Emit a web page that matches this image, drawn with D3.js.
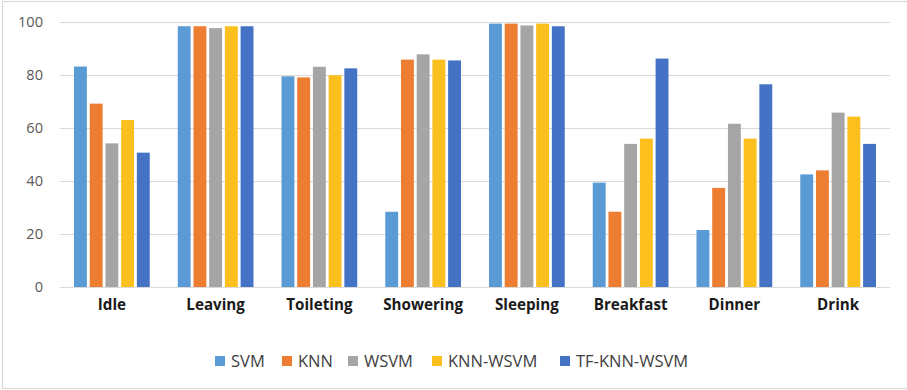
<!DOCTYPE html>
<html>
<head>
<meta charset="utf-8">
<script src="https://cdn.jsdelivr.net/npm/d3@7"></script>
<style>
  html, body { margin: 0; padding: 0; background: #fff; }
  svg { display: block; }
  text { font-family: "Open Sans", "Noto Sans", sans-serif; }
</style>
</head>
<body>
<svg id="chart" width="907" height="390"></svg>
<script>
// Activities on the x axis
const activities = ["Idle", "Leaving", "Toileting", "Showering", "Sleeping", "Breakfast", "Dinner", "Drink"];

// Classifiers (legend order)
const methods = ["SVM", "KNN", "WSVM", "KNN-WSVM", "TF-KNN-WSVM"];
const colors = ["#5B9BD5", "#ED7D31", "#A5A5A5", "#FBBF1E", "#4472C4"];

// Per-method accuracy (%) for each activity
const svm       = [83.2, 98.4, 79.5, 28.4, 99.4, 39.4, 21.5, 42.5];
const knn       = [69.2, 98.4, 79.1, 85.8, 99.4, 28.4, 37.4, 44.0];
const wsvm      = [54.2, 97.7, 83.1, 87.8, 98.7, 54.0, 61.6, 65.8];
const knnWsvm   = [63.0, 98.4, 79.9, 85.8, 99.4, 56.0, 56.0, 64.3];
const tfKnnWsvm = [50.7, 98.4, 82.5, 85.5, 98.4, 86.2, 76.5, 54.0];

const yTicks = [0, 20, 40, 60, 80, 100];

const seriesValues = [svm, knn, wsvm, knnWsvm, tfKnnWsvm];

const svg = d3.select("#chart");

// Outer frame of the chart area
svg.append("rect")
  .attr("x", 2.5).attr("y", 1.5)
  .attr("width", 910).attr("height", 387)
  .attr("fill", "#fff")
  .attr("stroke", "#D9D9D9")
  .attr("stroke-width", 1.2);

const plot = { left: 60, right: 890, top: 22, bottom: 287 };

const y = d3.scaleLinear().domain([0, 100]).range([plot.bottom, plot.top]);

const x0 = d3.scaleBand()
  .domain(activities)
  .range([plot.left, plot.right])
  .paddingInner(0.27)
  .paddingOuter(0.135);

const x1 = d3.scaleBand()
  .domain(methods)
  .range([0, x0.bandwidth()])
  .paddingInner(0.18);

// Horizontal gridlines
const yAxis = d3.axisLeft(y)
  .tickValues(yTicks)
  .tickSize(-(plot.right - plot.left))
  .tickPadding(17);

const gy = svg.append("g")
  .attr("transform", `translate(${plot.left},0)`)
  .call(yAxis);
gy.select(".domain").remove();
gy.selectAll(".tick line")
  .attr("stroke", "#D9D9D9")
  .attr("stroke-width", 1.2);
gy.selectAll(".tick text")
  .attr("fill", "#595959")
  .style("font-size", "14.6px")
  .style("font-family", "'Open Sans', sans-serif");

// Bars
const groups = svg.append("g")
  .selectAll("g")
  .data(activities)
  .join("g")
  .attr("transform", d => `translate(${x0(d)},0)`);

groups.selectAll("rect")
  .data((d, i) => methods.map((m, j) => ({ method: m, value: seriesValues[j][i], color: colors[j] })))
  .join("rect")
  .attr("x", d => x1(d.method))
  .attr("y", d => y(d.value))
  .attr("width", x1.bandwidth())
  .attr("height", d => y(0) - y(d.value))
  .attr("fill", d => d.color);

// Category labels
const xAxis = d3.axisBottom(x0).tickSize(0).tickPadding(12);
const gx = svg.append("g")
  .attr("transform", `translate(0,${plot.bottom})`)
  .call(xAxis);
gx.select(".domain").remove();
gx.selectAll(".tick text")
  .attr("fill", "#1a1a1a")
  .style("font-size", "15.2px")
  .style("font-weight", "700")
  .style("font-family", "'Open Sans', sans-serif");

// Legend
const legendX = [215, 282, 348, 432, 560];
const legend = svg.append("g")
  .selectAll("g")
  .data(methods)
  .join("g")
  .attr("transform", (d, i) => `translate(${legendX[i]},361)`);

legend.append("rect")
  .attr("x", 0).attr("y", -5)
  .attr("width", 10).attr("height", 10)
  .attr("fill", (d, i) => colors[i]);

legend.append("text")
  .attr("x", 16)
  .attr("y", 0)
  .attr("dy", "0.35em")
  .attr("fill", "#404040")
  .style("font-size", "16.5px")
  .text(d => d);
</script>
</body>
</html>
